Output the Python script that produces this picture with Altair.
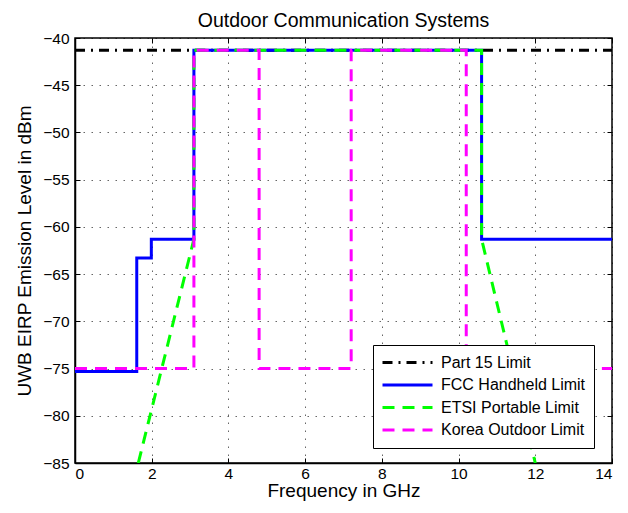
import altair as alt
import pandas as pd

# ---- data ----
series_names = ["Part 15 Limit", "FCC Handheld Limit", "ETSI Portable Limit", "Korea Outdoor Limit"]

part15_f = [0.0, 14.0]
part15_db = [-41.3, -41.3]

fcc_f = [0.0, 1.61, 1.61, 1.99, 1.99, 3.1, 3.1, 10.6, 10.6, 14.0]
fcc_db = [-75.3, -75.3, -63.3, -63.3, -61.3, -61.3, -41.3, -41.3, -61.3, -61.3]

etsi_f = [1.65, 3.1, 3.1, 10.6, 10.6, 12.0]
etsi_db = [-85.0, -61.3, -41.3, -41.3, -61.3, -85.0]

korea_f = [0.0, 3.1, 3.1, 4.8, 4.8, 7.2, 7.2, 10.2, 10.2, 14.0]
korea_db = [-75.0, -75.0, -41.3, -41.3, -75.0, -75.0, -41.3, -41.3, -75.0, -75.0]

x_ticks = [0, 2, 4, 6, 8, 10, 12, 14]
y_ticks = [-85, -80, -75, -70, -65, -60, -55, -50, -45, -40]

colors = ["#000000", "#0000ff", "#00ff00", "#ff00ff"]
dashes = [[10, 6, 2, 6], [1, 0], [12, 8], [12, 8]]

rows = []
for name, fs, ds in zip(series_names,
                        [part15_f, fcc_f, etsi_f, korea_f],
                        [part15_db, fcc_db, etsi_db, korea_db]):
    for i, (f, d) in enumerate(zip(fs, ds)):
        rows.append({"series": name, "idx": i, "f": f, "db": d})
df = pd.DataFrame(rows)

FONT = "Liberation Sans"
x_scale = alt.Scale(domain=[0, 14], nice=False)
y_scale = alt.Scale(domain=[-85, -40], nice=False)


def tick_axis(values, orient):
    # inward tick marks (MATLAB style) drawn just inside the frame
    return alt.Axis(values=values, orient=orient, offset=-5, tickSize=5, tickWidth=1,
                    tickColor="black", labels=False, domain=False, grid=False, title=None)


main_x = alt.Axis(values=x_ticks, format="d", labelPadding=3, titlePadding=0, orient="bottom")
main_y = alt.Axis(values=y_ticks, format="d", labelPadding=6, titlePadding=8, orient="left")

axis_sets = [
    (main_x, main_y),
    (tick_axis(x_ticks, "top"), tick_axis(y_ticks, "right")),
    (tick_axis(x_ticks, "bottom"), tick_axis(y_ticks, "left")),
    (None, None),
]

layers = []
for name, (ax, ay) in zip(series_names, axis_sets):
    layers.append(
        alt.Chart(df).mark_line(strokeWidth=3, clip=True).encode(
            x=alt.X("f:Q", title="Frequency in GHz", scale=x_scale, axis=ax),
            y=alt.Y("db:Q", title="UWB EIRP Emission Level in dBm", scale=y_scale, axis=ay),
            color=alt.Color("series:N", scale=alt.Scale(domain=series_names, range=colors),
                            sort=series_names, title=None),
            strokeDash=alt.StrokeDash("series:N", scale=alt.Scale(domain=series_names, range=dashes),
                                      sort=series_names, title=None),
            order="idx:Q",
        ).transform_filter(alt.datum.series == name)
    )

chart = alt.layer(*layers).resolve_axis(x="independent", y="independent").properties(
    width=537, height=425,
    title=alt.Title("Outdoor Communication Systems", fontSize=19.5, font=FONT,
                    fontWeight="normal", color="black", offset=0),
    autosize=alt.AutoSizeParams(type="none"),
    padding={"left": 67, "top": 30, "right": 8, "bottom": 42},
).configure_view(
    stroke="black", strokeWidth=1.5
).configure_axis(
    labelFont=FONT, titleFont=FONT, labelFontSize=15.5, titleFontSize=19,
    titleFontWeight="normal", labelColor="black", titleColor="black",
    grid=True, gridColor="black", gridDash=[1.5, 6.5], gridOpacity=0.6, gridWidth=1,
    domainColor="black", domainWidth=1.5, tickSize=0,
).configure_legend(
    orient="none", legendX=298, legendY=307,
    fillColor="white", strokeColor="black", padding=8,
    labelFont=FONT, labelFontSize=16, labelColor="black", labelOffset=7,
    symbolType="stroke", symbolStrokeWidth=3, symbolSize=2500,
    clipHeight=19, rowPadding=3.5, labelLimit=300,
)

chart.save("out.html", embed_options={"renderer": "svg", "actions": False})
